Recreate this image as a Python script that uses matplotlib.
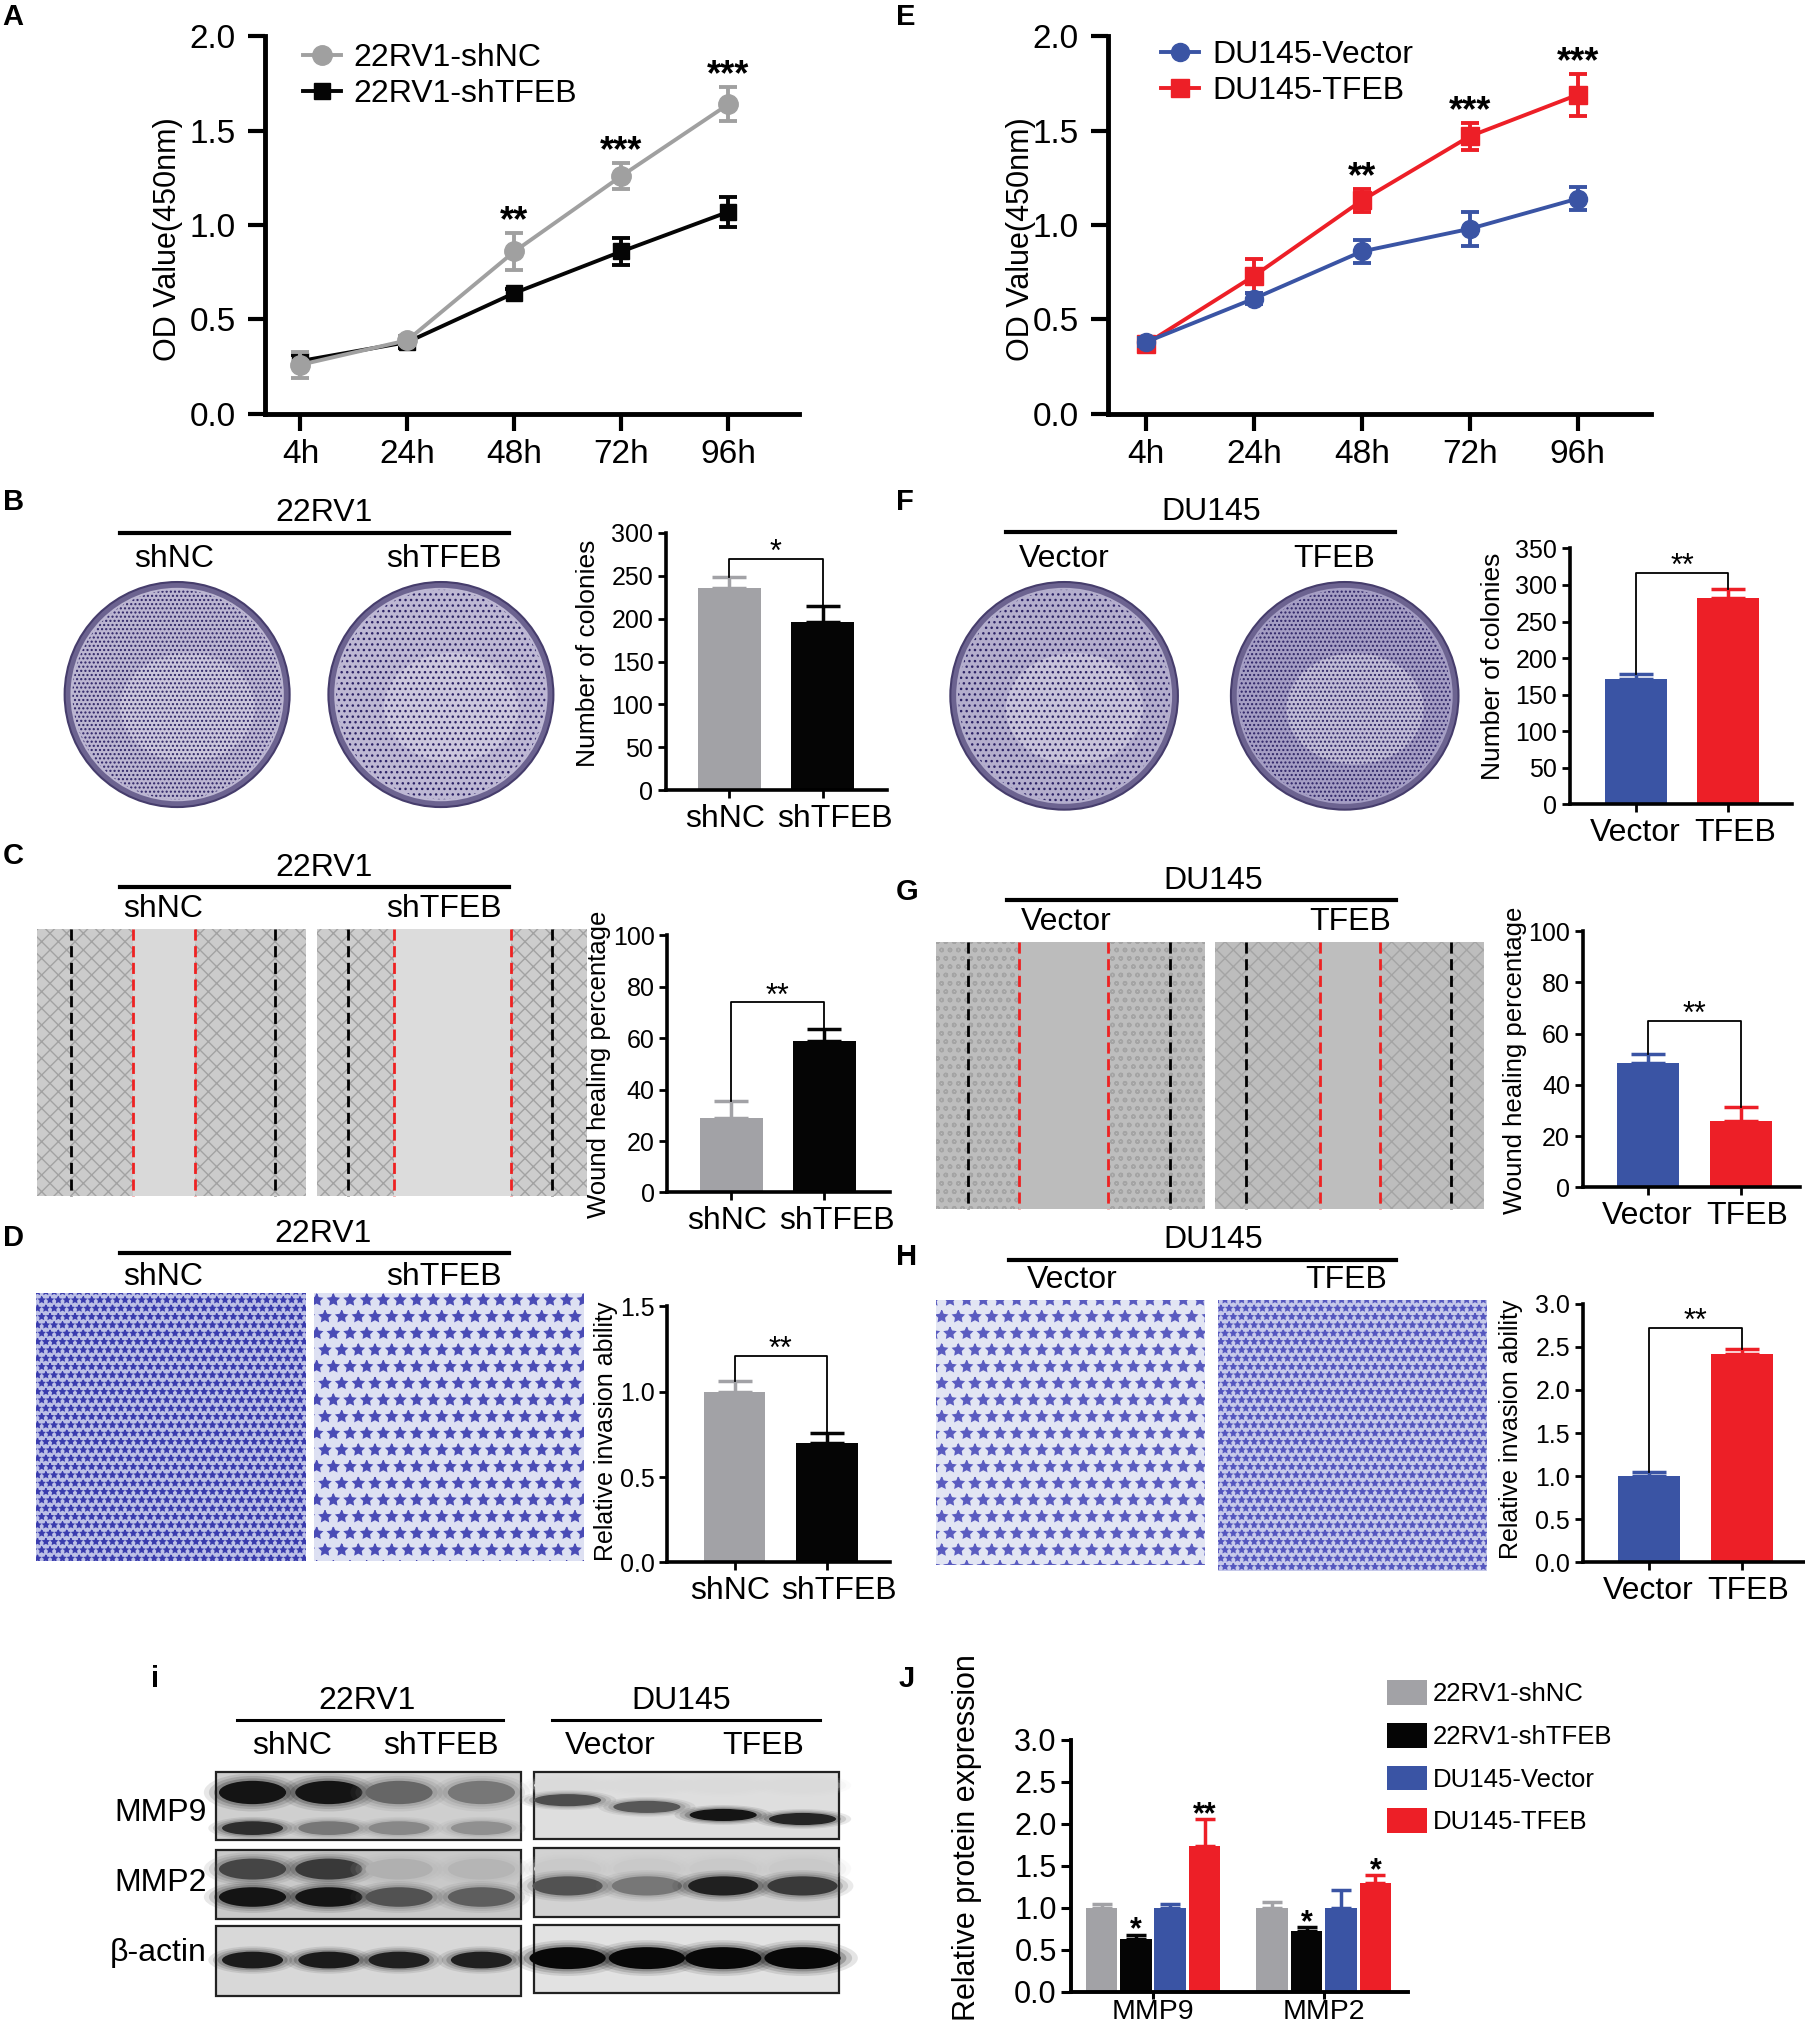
import numpy as np
import matplotlib
matplotlib.use("Agg")
import matplotlib.pyplot as plt
from matplotlib.lines import Line2D
from matplotlib.patches import Ellipse, Rectangle

# ---------------- data ----------------
time_points = ["4h", "24h", "48h", "72h", "96h"]

rv_shnc_od = [0.26, 0.39, 0.86, 1.26, 1.64]
rv_shnc_od_err = [0.07, 0.02, 0.10, 0.07, 0.09]
rv_shtfeb_od = [0.28, 0.38, 0.64, 0.86, 1.07]
rv_shtfeb_od_err = [0.03, 0.03, 0.02, 0.07, 0.08]
rv_od_stars = ["", "", "**", "***", "***"]

du_vector_od = [0.38, 0.61, 0.86, 0.98, 1.14]
du_vector_od_err = [0.02, 0.03, 0.06, 0.09, 0.06]
du_tfeb_od = [0.37, 0.73, 1.13, 1.47, 1.69]
du_tfeb_od_err = [0.03, 0.09, 0.06, 0.07, 0.11]
du_od_stars = ["", "", "**", "***", "***"]

rv_groups = ["shNC", "shTFEB"]
du_groups = ["Vector", "TFEB"]

rv_colonies = [236, 196]
rv_colonies_err = [13, 19]
du_colonies = [171, 282]
du_colonies_err = [8, 12]

rv_wound = [29, 59]
rv_wound_err = [6.5, 4.5]
du_wound = [48.6, 26]
du_wound_err = [3.6, 5.5]

rv_invasion = [1.0, 0.70]
rv_invasion_err = [0.06, 0.06]
du_invasion = [1.0, 2.42]
du_invasion_err = [0.05, 0.05]

# significance: (label, bracket height)
sig_rv_colonies = ("*", 270)
sig_du_colonies = ("**", 317)
sig_rv_wound = ("**", 74)
sig_du_wound = ("**", 65)
sig_rv_invasion = ("**", 1.21)
sig_du_invasion = ("**", 2.72)

proteins = ["MMP9", "MMP2"]
protein_series = ["22RV1-shNC", "22RV1-shTFEB", "DU145-Vector", "DU145-TFEB"]
protein_rv_shnc = [1.0, 1.0]
protein_rv_shnc_err = [0.04, 0.07]
protein_rv_shtfeb = [0.63, 0.72]
protein_rv_shtfeb_err = [0.05, 0.05]
protein_du_vector = [1.0, 1.0]
protein_du_vector_err = [0.04, 0.21]
protein_du_tfeb = [1.74, 1.29]
protein_du_tfeb_err = [0.31, 0.10]
protein_stars = [["", ""], ["*", "*"], ["", ""], ["**", "*"]]

# western blot band darkness per lane (0 = none, 1 = black)
blot_rv_mmp9_upper = [0.95, 0.95, 0.62, 0.55]
blot_rv_mmp9_lower = [0.85, 0.55, 0.48, 0.45]
blot_rv_mmp2_upper = [0.75, 0.80, 0.32, 0.30]
blot_rv_mmp2_lower = [0.95, 0.95, 0.70, 0.65]
blot_rv_actin = [0.92, 0.92, 0.90, 0.90]
blot_du_mmp9 = [0.72, 0.68, 0.95, 0.88]
blot_du_mmp9_pos = [0.42, 0.52, 0.64, 0.70]
blot_du_mmp2 = [0.70, 0.55, 0.90, 0.80]
blot_du_actin = [1.0, 1.0, 1.0, 1.0]

# ---------------- style ----------------
plt.rcParams["font.family"] = ["Liberation Sans", "DejaVu Sans"]
plt.rcParams["hatch.linewidth"] = 1.0

GREY = "#a2a2a6"
LGREY = "#a0a0a0"
BLACK = "#050505"
BLUE = "#3a54a4"
RED = "#ed1f27"

W, H = 1396.0, 1568.0
fig = plt.figure(figsize=(18.05, 20.28), dpi=100)

ov = fig.add_axes([0, 0, 1, 1])
ov.set_xlim(0, W)
ov.set_ylim(H, 0)
ov.axis("off")


def add_ax(l, t, r, b):
    return fig.add_axes([l / W, 1 - b / H, (r - l) / W, (b - t) / H])


def label(x, y, s, size=23, **kw):
    ov.text(x, y, s, fontsize=size, ha="center", va="center", **kw)


def ylab(x, y, s, size):
    ov.text(x, y, s, fontsize=size, rotation=90, ha="center", va="center")


def letter(x, y, s):
    ov.text(x, y, s, fontsize=21, fontweight="bold", ha="left", va="center")


def header(cx, y, x0, x1, title, left, right, lx, rx, ly):
    label(cx, y, title)
    ov.plot([x0, x1], [y + 15, y + 15], color="black", lw=3)
    label(lx, ly, left)
    label(rx, ly, right)


def style_axes(ax, lw, tl, tw, size, pad):
    for s in ("top", "right"):
        ax.spines[s].set_visible(False)
    for s in ("left", "bottom"):
        ax.spines[s].set_linewidth(lw)
    ax.tick_params(direction="out", length=tl, width=tw, labelsize=size, pad=pad)
    ax.patch.set_alpha(0)


# ---------------- line charts (A, E) ----------------
def line_panel(ax, series, stars, xlim):
    x = np.arange(len(time_points))
    handles = []
    for mean, err, color, marker, ms, z in series:
        ax.errorbar(x, mean, yerr=err, color=color, marker=marker, ms=ms, lw=2.8,
                    elinewidth=2.8, capsize=6.5, capthick=2.8, zorder=z)
        handles.append(Line2D([], [], color=color, marker=marker, ms=ms, lw=2.8))
    tops = np.max([np.add(m, e) for m, e, *_ in series], axis=0)
    for xi, t, s in zip(x, tops, stars):
        if s:
            ax.annotate(s, (xi, t), xytext=(0, 8), textcoords="offset points",
                        ha="center", va="center", fontsize=26, fontweight="bold")
    ax.set_xlim(*xlim)
    ax.set_ylim(0, 2.0)
    ax.set_xticks(x, time_points)
    yt = np.arange(0, 2.01, 0.5)
    ax.set_yticks(yt, [f"{v:.1f}" for v in yt])
    style_axes(ax, 3.5, 12, 3, 24, 6)
    ax.tick_params(axis="y", pad=9)
    return handles


def line_legend(ax, handles, names, x, y):
    ax.legend(handles, names, loc="upper left", bbox_to_anchor=(x / W, 1 - y / H),
              bbox_transform=fig.transFigure, frameon=False, fontsize=23,
              borderpad=0, borderaxespad=0, handlelength=1.2, handletextpad=0.4,
              labelspacing=0.2)


axA = add_ax(205, 28, 618, 320)
hA = line_panel(axA, [
    (rv_shtfeb_od, rv_shtfeb_od_err, BLACK, "s", 12, 2),
    (rv_shnc_od, rv_shnc_od_err, LGREY, "o", 14, 3),
], rv_od_stars, (-0.33, 4.66))
line_legend(axA, hA[::-1], ["22RV1-shNC", "22RV1-shTFEB"], 234, 33)

axE = add_ax(857, 28, 1277, 320)
hE = line_panel(axE, [
    (du_tfeb_od, du_tfeb_od_err, RED, "s", 13, 2),
    (du_vector_od, du_vector_od_err, BLUE, "o", 13, 3),
], du_od_stars, (-0.35, 4.68))
line_legend(axE, hE[::-1], ["DU145-Vector", "DU145-TFEB"], 898, 31)

ylab(130, 185, "OD Value(450nm)", 22)
ylab(790, 185, "OD Value(450nm)", 22)


# ---------------- two-bar charts ----------------
def bar_panel(ax, vals, errs, colors, cats, shifts, ymax, ystep, fmt, xlim, sig):
    x = np.arange(len(vals))
    ax.bar(x, vals, width=0.67, color=colors, zorder=2)
    for xi, v, e, c in zip(x, vals, errs, colors):
        ax.errorbar(xi, v, yerr=[[0], [e]], color=c, capsize=12, elinewidth=2.5,
                    capthick=2.5, zorder=1)
    star, level = sig
    ax.plot([0, 0, 1, 1], [vals[0] + errs[0], level, level, vals[1] + errs[1]],
            color="black", lw=1.3, zorder=3)
    ax.annotate(star, (0.5, level), xytext=(0, 4), textcoords="offset points",
                ha="center", va="center", fontsize=22)
    ax.set_xlim(*xlim)
    ax.set_ylim(0, ymax)
    ax.set_xticks(x)
    ax.tick_params(axis="x", labelbottom=False)
    for xi, cat, dx in zip(x, cats, shifts):
        ax.annotate(cat, (xi, 0), xycoords=("data", "axes fraction"), xytext=(dx, -10),
                    textcoords="offset points", ha="center", va="top", fontsize=23)
    yt = np.arange(0, ymax + ystep / 2, ystep)
    ax.set_yticks(yt, [fmt.format(v) for v in yt])
    style_axes(ax, 2.6, 6, 2, 18, 3)


rv_colors = [GREY, BLACK]
du_colors = [BLUE, RED]
rv_shift = [-3, 9]
du_shift = [-1, 5]

axB = add_ax(515, 412, 686, 611)
bar_panel(axB, rv_colonies, rv_colonies_err, rv_colors, rv_groups, rv_shift, 300, 50, "{:.0f}",
          (-0.68, 1.69), sig_rv_colonies)
axF = add_ax(1214, 424, 1386, 622)
bar_panel(axF, du_colonies, du_colonies_err, du_colors, du_groups, du_shift, 350, 50, "{:.0f}",
          (-0.725, 1.70), sig_du_colonies)
axC = add_ax(516, 723, 688, 922)
bar_panel(axC, rv_wound, rv_wound_err, rv_colors, rv_groups, rv_shift, 100, 20, "{:.0f}",
          (-0.69, 1.70), sig_rv_wound)
axG = add_ax(1224, 720, 1392, 918)
bar_panel(axG, du_wound, du_wound_err, du_colors, du_groups, du_shift, 100, 20, "{:.0f}",
          (-0.71, 1.64), sig_du_wound)
axD = add_ax(516, 1010, 688, 1208)
bar_panel(axD, rv_invasion, rv_invasion_err, rv_colors, rv_groups, rv_shift, 1.5, 0.5, "{:.1f}",
          (-0.73, 1.68), sig_rv_invasion)
axH = add_ax(1224, 1008, 1395, 1208)
bar_panel(axH, du_invasion, du_invasion_err, du_colors, du_groups, du_shift, 3.0, 0.5, "{:.1f}",
          (-0.72, 1.67), sig_du_invasion)

ylab(455, 505, "Number of colonies", 19)
ylab(1155, 515, "Number of colonies", 19)
ylab(463, 823, "Wound healing percentage", 18.5)
ylab(1172, 820, "Wound healing percentage", 18.5)
ylab(469, 1107, "Relative invasion ability", 18)
ylab(1169, 1105, "Relative invasion ability", 18)

# ---------------- J grouped bars ----------------
axJ = add_ax(828, 1345, 1089, 1540)
xg = np.arange(len(proteins))
j_vals = [protein_rv_shnc, protein_rv_shtfeb, protein_du_vector, protein_du_tfeb]
j_errs = [protein_rv_shnc_err, protein_rv_shtfeb_err, protein_du_vector_err, protein_du_tfeb_err]
j_cols = [GREY, BLACK, BLUE, RED]
for i, (v, e, c, s) in enumerate(zip(j_vals, j_errs, j_cols, protein_stars)):
    xs = xg + (i - 1.5) * 0.2013
    axJ.bar(xs, v, width=0.185, color=c, label=protein_series[i], zorder=2)
    axJ.errorbar(xs, v, yerr=[np.zeros(len(v)), e], fmt="none", ecolor=c, capsize=7,
                 elinewidth=2.5, capthick=2.5, zorder=1)
    for xi, t, st in zip(xs, np.add(v, e), s):
        if st:
            axJ.annotate(st, (xi, t), xytext=(0, 3), textcoords="offset points",
                         ha="center", va="center", fontsize=22, fontweight="bold")
axJ.set_xlim(-0.483, 1.493)
axJ.set_ylim(0, 3.0)
axJ.set_xticks(xg, proteins)
yt = np.arange(0, 3.01, 0.5)
axJ.set_yticks(yt, [f"{v:.1f}" for v in yt])
style_axes(axJ, 2.8, 7, 2.2, 22, 3)
axJ.tick_params(axis="x", labelsize=20.5, pad=0, length=5)
axJ.legend(loc="upper left", bbox_to_anchor=(1073 / W, 1 - 1299 / H),
           bbox_transform=fig.transFigure, frameon=False, fontsize=18.5,
           borderpad=0, borderaxespad=0, handlelength=1.56, handleheight=1.1,
           handletextpad=0.2, labelspacing=0.65)
ylab(748, 1421, "Relative protein expression", 22)


# ---------------- photographs (drawn schematically) ----------------
def plate(cx, cy, r, tint, hatch):
    ov.add_patch(Ellipse((cx, cy), 2 * r, 2 * r, fc="#6c6390", ec="#463d6c", lw=1.5, zorder=1))
    ov.add_patch(Ellipse((cx, cy), 2 * r - 9, 2 * r - 9, fc=tint, ec="none", zorder=2))
    ov.add_patch(Ellipse((cx + 8, cy + 10), 2 * r - 70, 2 * r - 90, fc="#d9d5e6", ec="none",
                         alpha=0.55, zorder=2))
    ov.add_patch(Ellipse((cx, cy), 2 * r - 12, 2 * r - 12, fc="none", ec="#2d2366", lw=0,
                         hatch=hatch, zorder=3))


def wound(x0, y0, x1, y1, blacks, reds, cell, gap, hatch_col, hatch):
    ov.add_patch(Rectangle((x0, y0), x1 - x0, y1 - y0, fc=cell, ec="none", zorder=1))
    ov.add_patch(Rectangle((x0, y0), x1 - x0, y1 - y0, fc="none", ec=hatch_col, lw=0,
                           hatch=hatch, zorder=2))
    ov.add_patch(Rectangle((reds[0], y0), reds[1] - reds[0], y1 - y0, fc=gap, ec="none", zorder=3))
    for xb in blacks:
        ov.plot([xb, xb], [y0, y1], color="black", lw=2, ls=(0, (4, 2)), zorder=4)
    for xr in reds:
        ov.plot([xr, xr], [y0, y1], color="#ee2222", lw=2, ls=(0, (4, 2)), zorder=4)


def transwell(x0, y0, x1, y1, bg, hatch, col):
    ov.add_patch(Rectangle((x0, y0), x1 - x0, y1 - y0, fc=bg, ec="none", zorder=1))
    ov.add_patch(Rectangle((x0, y0), x1 - x0, y1 - y0, fc="none", ec=col, lw=0,
                           hatch=hatch, zorder=2))


def band(x0, y0, x1, y1, fx, fy, k, bw, bh):
    if k <= 0:
        return
    cx = x0 + fx * (x1 - x0)
    cy = y0 + fy * (y1 - y0)
    g = 1 - 0.97 * k
    w = bw * (x1 - x0)
    h = bh * (y1 - y0)
    for s, a in [(1.45, 0.10), (1.3, 0.14), (1.15, 0.22), (1.0, 1.0)]:
        ov.add_patch(Ellipse((cx, cy), w * s, h * (1 + (s - 1) * 1.4), fc=(g, g, g),
                             ec="none", alpha=a, zorder=3))


def blot_frame(x0, y0, x1, y1, bg):
    ov.add_patch(Rectangle((x0, y0), x1 - x0, y1 - y0, fc=bg, ec="#222222", lw=1.6, zorder=2))


# B / F colony plates
header(251, 397, 93, 394, "22RV1", "shNC", "shTFEB", 135, 343, 432)
plate(137, 537, 87, "#bcb6d2", "....")
plate(341, 537, 87, "#beb8d4", "...")
header(937, 396, 778, 1079, "DU145", "Vector", "TFEB", 823, 1032, 432)
plate(823, 538, 88, "#b4aecd", "...")
plate(1040, 538, 88, "#a59ec4", "....")

# C / G wound healing
header(251, 671, 93, 394, "22RV1", "shNC", "shTFEB", 126, 343, 703)
wound(29, 718, 237, 925, [55, 213], [103, 151], "#cbcbcb", "#d9d9d9", "#a2a2a2", "xx")
wound(245, 718, 454, 925, [269, 427], [305, 395], "#cdcdcd", "#dcdcdc", "#a2a2a2", "xx")
header(938, 681, 779, 1080, "DU145", "Vector", "TFEB", 825, 1044, 713)
wound(724, 728, 932, 935, [749, 905], [788, 857], "#bdbdbd", "#bcbcbc", "#a4a4a4", "oo")
wound(940, 728, 1148, 935, [964, 1122], [1021, 1067], "#bdbdbd", "#bebebe", "#a4a4a4", "xx")

# D / H transwell invasion
header(250, 954, 93, 394, "22RV1", "shNC", "shTFEB", 126, 343, 987)
transwell(28, 1000, 237, 1207, "#bcc0e6", "**", "#3a3cae")
transwell(243, 1000, 452, 1207, "#dde0f2", "*", "#4a4cb6")
header(938, 959, 780, 1080, "DU145", "Vector", "TFEB", 829, 1041, 990)
transwell(724, 1005, 932, 1210, "#e2e5f3", "*", "#5a5cc0")
transwell(942, 1005, 1150, 1215, "#c6c9ea", "**", "#5557bf")

# i western blots
label(284, 1315, "22RV1", 23)
ov.plot([183, 389], [1330, 1330], color="black", lw=2.2)
label(527, 1315, "DU145", 23)
ov.plot([427, 634], [1330, 1330], color="black", lw=2.2)
for xx, s in zip([226, 341, 472, 590], ["shNC", "shTFEB", "Vector", "TFEB"]):
    label(xx, 1350, s, 23)
for yy, s in zip([1402, 1456, 1510], ["MMP9", "MMP2", "β-actin"]):
    ov.text(160, yy, s, fontsize=23, ha="right", va="center")

left_lanes = [0.12, 0.37, 0.60, 0.87]
right_lanes = [0.11, 0.37, 0.62, 0.88]
L = (167, 403)
R = (413, 649)
rows = [(1370, 1423), (1430, 1484), (1489, 1543)]

blot_frame(L[0], rows[0][0], L[1], rows[0][1], "#cfcfcf")
for fx, ku, kl in zip(left_lanes, blot_rv_mmp9_upper, blot_rv_mmp9_lower):
    band(L[0], rows[0][0], L[1], rows[0][1], fx, 0.30, ku, 0.22, 0.34)
    band(L[0], rows[0][0], L[1], rows[0][1], fx, 0.82, kl, 0.20, 0.20)
blot_frame(L[0], rows[1][0], L[1], rows[1][1], "#c9c9c9")
for fx, ku, kl in zip(left_lanes, blot_rv_mmp2_upper, blot_rv_mmp2_lower):
    band(L[0], rows[1][0], L[1], rows[1][1], fx, 0.28, ku, 0.22, 0.30)
    band(L[0], rows[1][0], L[1], rows[1][1], fx, 0.68, kl, 0.22, 0.28)
blot_frame(L[0], rows[2][0], L[1], rows[2][1], "#d8d8d8")
for fx, k in zip(left_lanes, blot_rv_actin):
    band(L[0], rows[2][0], L[1], rows[2][1], fx, 0.49, k, 0.20, 0.24)

blot_frame(R[0], rows[0][0], R[1], rows[0][1] - 1, "#dedede")
for fx, k, fy in zip(right_lanes, blot_du_mmp9, blot_du_mmp9_pos):
    band(R[0], rows[0][0], R[1], rows[0][1] - 1, fx, 0.2, 0.15, 0.22, 0.2)
    band(R[0], rows[0][0], R[1], rows[0][1] - 1, fx, fy, k, 0.22, 0.18)
blot_frame(R[0], rows[1][0] - 1, R[1], rows[1][1] - 2, "#d2d2d2")
for fx, k in zip(right_lanes, blot_du_mmp2):
    band(R[0], rows[1][0] - 1, R[1], rows[1][1] - 2, fx, 0.3, 0.22, 0.22, 0.3)
    band(R[0], rows[1][0] - 1, R[1], rows[1][1] - 2, fx, 0.55, k, 0.23, 0.28)
blot_frame(R[0], rows[2][0] - 1, R[1], rows[2][1] - 2, "#e2e2e2")
for fx, k in zip(right_lanes, blot_du_actin):
    band(R[0], rows[2][0] - 1, R[1], rows[2][1] - 2, fx, 0.49, k, 0.25, 0.32)

# panel letters
for (x, y, s) in [(2, 13, "A"), (693, 13, "E"), (2, 388, "B"), (693, 388, "F"),
                  (2, 662, "C"), (693, 690, "G"), (2, 957, "D"), (693, 972, "H"),
                  (117, 1298, "i"), (695, 1298, "J")]:
    letter(x, y, s)

fig.savefig("out.png", dpi=100)
